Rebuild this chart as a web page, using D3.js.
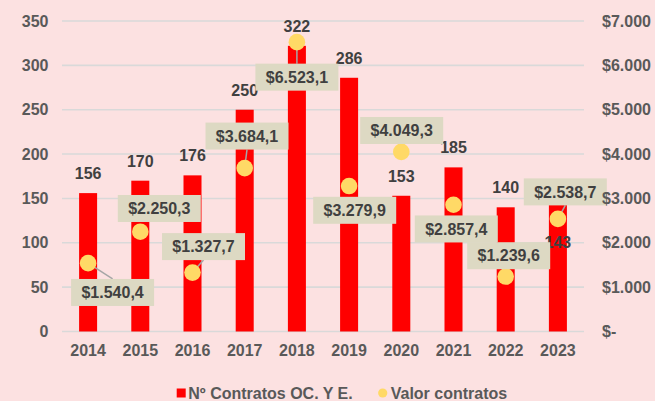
<!DOCTYPE html>
<html>
<head>
<meta charset="utf-8">
<script src="https://cdn.jsdelivr.net/npm/d3@7"></script>
<style>
  body { margin: 0; background: #fce1e1; }
  svg text { font-family: "Liberation Sans", Arial, sans-serif; font-weight: bold; }
</style>
</head>
<body>
<div id="chart"></div>
<script>
// data
const years = ["2014", "2015", "2016", "2017", "2018", "2019", "2020", "2021", "2022", "2023"];
const contratos = [156, 170, 176, 250, 322, 286, 153, 185, 140, 143];
const valor = [1540.4, 2250.3, 1327.7, 3684.1, 6523.1, 3279.9, 4049.3, 2857.4, 1239.6, 2538.7];
const leftTicks = [0, 50, 100, 150, 200, 250, 300, 350];
const rightTicks = [0, 1000, 2000, 3000, 4000, 5000, 6000, 7000];
const seriesNames = ["Nº Contratos OC. Y E.", "Valor contratos"];

// where the value boxes were dragged to (offset of box centre from its dot)
const boxOffsets = [[24.5, 29.3], [19, -23.2], [11, -26], [2.3, -32], [0, 35],
                    [5.6, 24.3], [0.4, -21.4], [2.8, 24.2], [3, -20.8], [7.4, -27]];
// the 2023 bar label sits lower than the others
const barLabelShift = [0, 0, 0, 0, 0, 0, 0, 0, 0, 57];

function init() {
    const W = 655, H = 401;
    const plot = { left: 62, right: 584, top: 21, bottom: 331.5 };

    const svg = d3.select("#chart").append("svg")
        .attr("width", W).attr("height", H);

    svg.append("rect").attr("width", W).attr("height", H).attr("fill", "#fce1e1");

    const x = d3.scaleBand().domain(years)
        .range([plot.left, plot.right])
        .paddingInner(0.655).paddingOuter(0.3275);
    const y = d3.scaleLinear().domain([0, 350]).range([plot.bottom, plot.top]);
    const y2 = d3.scaleLinear().domain([0, 7000]).range([plot.bottom, plot.top]);

    const loc = d3.formatLocale({ decimal: ",", thousands: ".", grouping: [3], currency: ["$", ""] });
    const fmtMoney = loc.format(",.1f");
    const fmtAxis = v => v === 0 ? "$-" : "$" + loc.format(",")(v);

    // gridlines
    svg.append("g").selectAll("line")
        .data(leftTicks)
        .join("line")
        .attr("x1", plot.left).attr("x2", plot.right)
        .attr("y1", d => y(d)).attr("y2", d => y(d))
        .attr("stroke", "#d9d9d9").attr("stroke-width", 1.6);

    // left axis
    const gl = svg.append("g")
        .attr("transform", `translate(${plot.left},0)`)
        .call(d3.axisLeft(y).tickValues(leftTicks).tickSize(0).tickPadding(13.5));
    gl.select(".domain").remove();
    gl.selectAll("text").attr("fill", "#595959").style("font-size", "16px");

    // x axis
    const gx = svg.append("g")
        .attr("transform", `translate(0,${plot.bottom})`)
        .call(d3.axisBottom(x).tickSize(0).tickPadding(13.5));
    gx.select(".domain").remove();
    gx.selectAll("text").attr("fill", "#595959").style("font-size", "16px");

    // bars
    svg.append("g").selectAll("rect")
        .data(contratos)
        .join("rect")
        .attr("x", (d, i) => x(years[i]))
        .attr("y", d => y(d))
        .attr("width", x.bandwidth())
        .attr("height", d => y(0) - y(d))
        .attr("fill", "#ff0000");

    // bar labels
    svg.append("g").selectAll("text")
        .data(contratos)
        .join("text")
        .attr("x", (d, i) => x(years[i]) + x.bandwidth() / 2)
        .attr("y", (d, i) => y(d) - 14 + barLabelShift[i])
        .attr("text-anchor", "middle")
        .attr("fill", "#404040")
        .style("font-size", "16px")
        .text(d => d);

    const cx = i => x(years[i]) + x.bandwidth() / 2;
    const boxW = 83, boxH = 27;

    // leader lines (only when the box is far from its dot)
    const leaders = svg.append("g");
    valor.forEach((v, i) => {
        const px = cx(i), py = y2(v);
        const bx = px + boxOffsets[i][0], by = py + boxOffsets[i][1];
        const left = bx - boxW / 2, right = bx + boxW / 2, top = by - boxH / 2, bot = by + boxH / 2;
        const nx = Math.max(left, Math.min(px, right)), ny = Math.max(top, Math.min(py, bot));
        const dist = Math.hypot(nx - px, ny - py);
        if (dist > 12) {
            const ex = bx, ey = py < top ? top : bot;
            leaders.append("line")
                .attr("x1", px).attr("y1", py).attr("x2", ex).attr("y2", ey)
                .attr("stroke", "#a6a6a6").attr("stroke-width", 1.5);
        }
    });

    // dots
    svg.append("g").selectAll("circle")
        .data(valor)
        .join("circle")
        .attr("cx", (d, i) => cx(i))
        .attr("cy", d => y2(d))
        .attr("r", 8.3)
        .attr("fill", "#ffd966");

    // value boxes
    const boxes = svg.append("g").selectAll("g")
        .data(valor)
        .join("g")
        .attr("transform", (d, i) => `translate(${cx(i) + boxOffsets[i][0]},${y2(d) + boxOffsets[i][1]})`);
    boxes.append("rect")
        .attr("x", -boxW / 2).attr("y", -boxH / 2)
        .attr("width", boxW).attr("height", boxH)
        .attr("fill", "#ddd9c3");
    boxes.append("text")
        .attr("text-anchor", "middle")
        .attr("dy", "0.36em")
        .attr("fill", "#404040")
        .style("font-size", "16px")
        .text(d => "$" + fmtMoney(d));

    // right axis (drawn last so its labels sit over the 2023 box)
    const gr = svg.append("g")
        .attr("transform", `translate(${plot.right},0)`)
        .call(d3.axisRight(y2).tickValues(rightTicks).tickSize(0).tickPadding(18).tickFormat(fmtAxis));
    gr.select(".domain").remove();
    gr.selectAll("text").attr("fill", "#595959").style("font-size", "16px");

    // legend
    const lg = svg.append("g").attr("transform", "translate(0,393)");
    lg.append("rect").attr("x", 176.7).attr("y", -4.5).attr("width", 9).attr("height", 9).attr("fill", "#ff0000");
    lg.append("text").attr("x", 188.3).attr("dy", "0.36em").attr("fill", "#595959")
        .style("font-size", "16px").text(seriesNames[0]);
    lg.append("circle").attr("cx", 382.7).attr("cy", 0).attr("r", 4.6).attr("fill", "#ffd966");
    lg.append("text").attr("x", 390.7).attr("dy", "0.36em").attr("fill", "#595959")
        .style("font-size", "16px").text(seriesNames[1]);
}

window.onload = init;
</script>
</body>
</html>
